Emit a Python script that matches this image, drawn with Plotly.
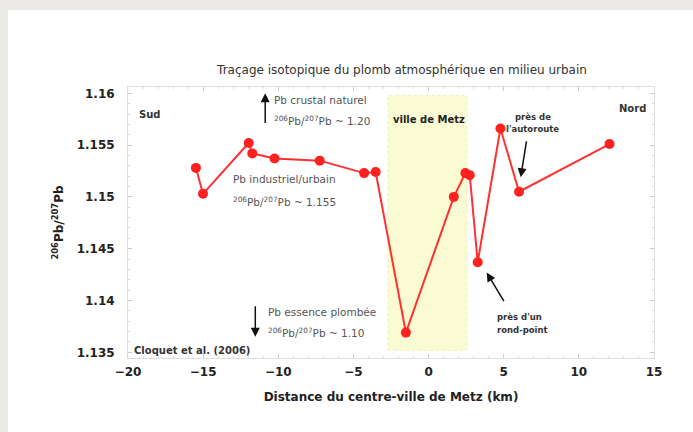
import plotly.graph_objects as go

# ---- data ----
distance_km = [-15.48, -15.01, -11.97, -11.73, -10.25, -7.24, -4.29, -3.52,
               -1.51, 1.68, 2.45, 2.74, 3.27, 4.78, 6.02, 12.04]
pb_ratio = [1.1528, 1.1503, 1.1552, 1.1542, 1.1537, 1.1535, 1.1523, 1.1524,
            1.1369, 1.1500, 1.1523, 1.1521, 1.1437, 1.1566, 1.1505, 1.1551]
metz_zone = [-2.7, 2.55]
x_ticks = [-20, -15, -10, -5, 0, 5, 10, 15]
y_ticks = [1.135, 1.14, 1.145, 1.15, 1.155, 1.16]
y_tick_labels = ["1.135", "1.14", "1.145", "1.15", "1.155", "1.16"]

FONT = "DejaVu Sans, Verdana, sans-serif"
PAGE_GRAY = "#ebe9e5"

W, H = 693, 432
L, R, T, B = 128, 39, 87, 74
PW, PH = W - L - R, H - T - B

fig = go.Figure()
fig.add_trace(go.Scatter(
    x=distance_km, y=pb_ratio, mode="lines+markers",
    line=dict(color="#ff3030", width=2),
    marker=dict(color="#ff2020", size=10),
    showlegend=False, hoverinfo="x+y"))

shapes = [
    # Metz highlighted zone
    dict(type="rect", xref="x", yref="y", x0=metz_zone[0], x1=metz_zone[1],
         y0=1.1352, y1=1.1598, fillcolor="#fafbd2",
         line=dict(color="#eeeebb", width=1, dash="dot"), layer="below"),
    # gray page strips (top and left)
    dict(type="rect", xref="paper", yref="paper",
         x0=-L / PW - 0.01, x1=1 + R / PW + 0.01,
         y0=1 + (T - 10) / PH, y1=1 + T / PH + 0.01,
         fillcolor=PAGE_GRAY, line=dict(width=0), layer="below"),
    dict(type="rect", xref="paper", yref="paper",
         x0=-L / PW - 0.01, x1=-(L - 8) / PW,
         y0=-B / PH - 0.01, y1=1 + T / PH + 0.01,
         fillcolor=PAGE_GRAY, line=dict(width=0), layer="below"),
]

gray = "#555555"
ann = []
def txt(x, y, t, size=10.5, color=gray, bold=False, xanchor="left"):
    if bold:
        t = "<b>" + t + "</b>"
    ann.append(dict(x=x, y=y, xref="x", yref="y", text=t, showarrow=False,
                    xanchor=xanchor, yanchor="middle",
                    font=dict(family=FONT, size=size, color=color)))

def arrow(x, y, ax, ay):
    ann.append(dict(x=x, y=y, ax=ax, ay=ay, xref="x", yref="y", axref="x", ayref="y",
                    text="", showarrow=True, arrowhead=2, arrowsize=1.2,
                    arrowwidth=1.5, arrowcolor="#111111"))

txt(-18.6, 1.1580, "Sud", size=10, color="#333", bold=True, xanchor="center")
txt(13.6, 1.1585, "Nord", size=10, color="#333", bold=True, xanchor="center")
txt(0.0, 1.1575, "ville de Metz", size=10, color="#222", bold=True, xanchor="center")

arrow(-10.87, 1.1600, -10.87, 1.1570)
txt(-10.45, 1.1594, "Pb crustal naturel")
txt(-10.45, 1.1574, "<sup>206</sup>Pb/<sup>207</sup>Pb ~ 1.20")

txt(-13.15, 1.1517, "Pb industriel/urbain")
txt(-13.15, 1.1496, "<sup>206</sup>Pb/<sup>207</sup>Pb ~ 1.155")

arrow(-11.53, 1.1365, -11.53, 1.1396)
txt(-10.85, 1.1389, "Pb essence plombée")
txt(-10.85, 1.1369, "<sup>206</sup>Pb/<sup>207</sup>Pb ~ 1.10")

txt(-19.75, 1.1352, "Cloquet et al. (2006)", size=10, color="#333", bold=True)

txt(6.93, 1.1577, "près de", size=8.5, color="#333", bold=True, xanchor="center")
txt(6.93, 1.1566, "l'autoroute", size=8.5, color="#333", bold=True, xanchor="center")
arrow(6.13, 1.1519, 6.53, 1.1555)

arrow(3.87, 1.1427, 5.07, 1.1398)
txt(4.4, 1.1384, "près d'un", size=8.5, color="#333", bold=True)
txt(4.4, 1.1372, "rond-point", size=8.5, color="#333", bold=True)

fig.update_layout(
    width=W, height=H,
    margin=dict(l=L, r=R, t=T, b=B),
    paper_bgcolor="white", plot_bgcolor="white",
    font=dict(family=FONT, color="#222"),
    title=dict(text="Traçage isotopique du plomb atmosphérique en milieu urbain",
               x=(402 - L) / PW, xref="paper", xanchor="center",
               y=1 - 70 / H, yref="container", yanchor="middle",
               font=dict(family=FONT, size=12, color="#333")),
    shapes=shapes, annotations=ann,
)
fig.update_xaxes(
    range=[-20, 15], tickvals=x_ticks, showgrid=False, zeroline=False,
    showline=True, linecolor="#dddddd", linewidth=1, mirror="ticks",
    ticks="inside", ticklen=4, tickcolor="#cccccc", ticklabelstandoff=3,
    minor=dict(dtick=1, ticks="inside", ticklen=2, tickcolor="#dddddd"),
    tickfont=dict(family=FONT, size=12, color="#222", weight="bold"),
    title=dict(text="<b>Distance du centre-ville de Metz (km)</b>", standoff=14,
               font=dict(family=FONT, size=12, color="#222")),
)
fig.update_yaxes(
    range=[1.13445, 1.16061], tickvals=y_ticks, ticktext=y_tick_labels,
    showgrid=False, zeroline=False,
    showline=True, linecolor="#dddddd", linewidth=1, mirror="ticks",
    ticks="inside", ticklen=4, tickcolor="#cccccc", ticklabelstandoff=10,
    minor=dict(dtick=0.001, ticks="inside", ticklen=2, tickcolor="#dddddd"),
    tickfont=dict(family=FONT, size=12, color="#222", weight="bold"),
    title=dict(text="<b><sup>206</sup>Pb/<sup>207</sup>Pb</b>", standoff=10,
               font=dict(family=FONT, size=12, color="#222")),
)

fig.write_html("out.html",
               config={"displayModeBar": False},
               post_script="document.body.style.margin='0';"
                           "document.body.style.overflow='hidden';")
